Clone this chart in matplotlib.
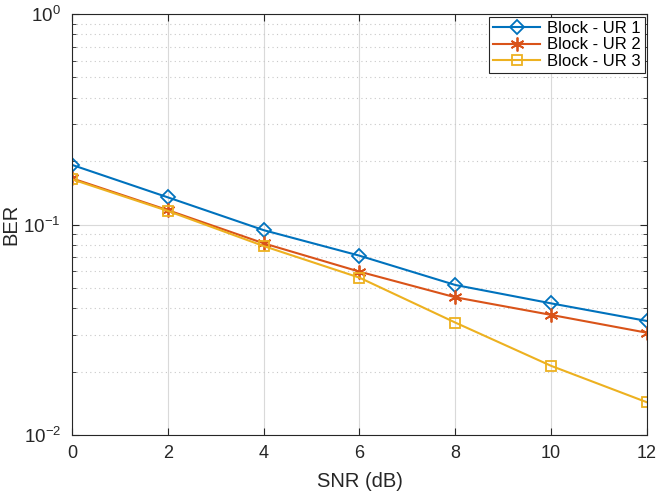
import matplotlib
matplotlib.use('Agg')
import matplotlib.pyplot as plt
from matplotlib.ticker import LogLocator, NullFormatter

plt.rcParams['font.family'] = ['Liberation Sans', 'DejaVu Sans']
plt.rcParams['mathtext.fontset'] = 'custom'
plt.rcParams['mathtext.rm'] = 'Liberation Sans'
plt.rcParams['mathtext.it'] = 'Liberation Sans'
plt.rcParams['axes.unicode_minus'] = False

snr = [0, 2, 4, 6, 8, 10, 12]
ber_ur1 = [0.192, 0.1346, 0.094, 0.0711, 0.0516, 0.0422, 0.0348]
ber_ur2 = [0.1657, 0.117, 0.0814, 0.0597, 0.0451, 0.0372, 0.0306]
ber_ur3 = [0.164, 0.116, 0.079, 0.0559, 0.0342, 0.0213, 0.0143]
etiquetas = ['Block - UR 1', 'Block - UR 2', 'Block - UR 3']

fig = plt.figure(figsize=(6.64, 5), dpi=100)
ax = fig.add_axes([0.1084, 0.13, 0.866, 0.842])

ax.semilogy(snr, ber_ur1, color='#0072BD', marker='D', markersize=7.5,
            markerfacecolor='none', markeredgewidth=1.3, lw=1.5, label=etiquetas[0])
ax.semilogy(snr, ber_ur2, color='#D95319', marker=(6, 2, 0), markersize=10,
            markeredgewidth=1.3, lw=1.5, label=etiquetas[1])
ax.semilogy(snr, ber_ur3, color='#EDB120', marker='s', markersize=7.5,
            markerfacecolor='none', markeredgewidth=1.3, lw=1.5, label=etiquetas[2])

ax.set_xlim(0, 12)
ax.set_ylim(1e-2, 1)
ax.set_xticks(snr)
ax.yaxis.set_minor_locator(LogLocator(base=10, subs=range(2, 10)))
ax.yaxis.set_minor_formatter(NullFormatter())

ax.grid(True, which='major', color='#d9d9d9', lw=0.8)
ax.grid(True, which='minor', axis='y', color='#c8c8c8', ls=(0, (1, 3)), lw=0.8)
ax.set_axisbelow(True)

ax.tick_params(which='both', direction='in', top=True, right=True,
               colors='#262626')
ax.tick_params(which='major', length=5)
ax.tick_params(which='minor', length=3)
ax.tick_params(axis='x', which='major', pad=7, labelsize=13)
ax.tick_params(axis='y', which='major', pad=8, labelsize=13.5)
for s in ax.spines.values():
    s.set_color('#262626')
    s.set_linewidth(0.8)

ax.set_xlabel('SNR (dB)', fontsize=14.5, color='#262626')
ax.set_ylabel('BER', fontsize=14.5, color='#262626')
ax.xaxis.set_label_coords(0.5, -0.089)
ax.yaxis.set_label_coords(-0.09, 0.5)

leg = ax.legend(loc='upper right', fontsize=12, fancybox=False, framealpha=1,
                edgecolor='#262626', borderaxespad=0.15, handlelength=2.8,
                labelspacing=0.1, borderpad=0.25, handletextpad=0.4)
leg.get_frame().set_linewidth(0.8)

fig.savefig('out.png', dpi=100)
